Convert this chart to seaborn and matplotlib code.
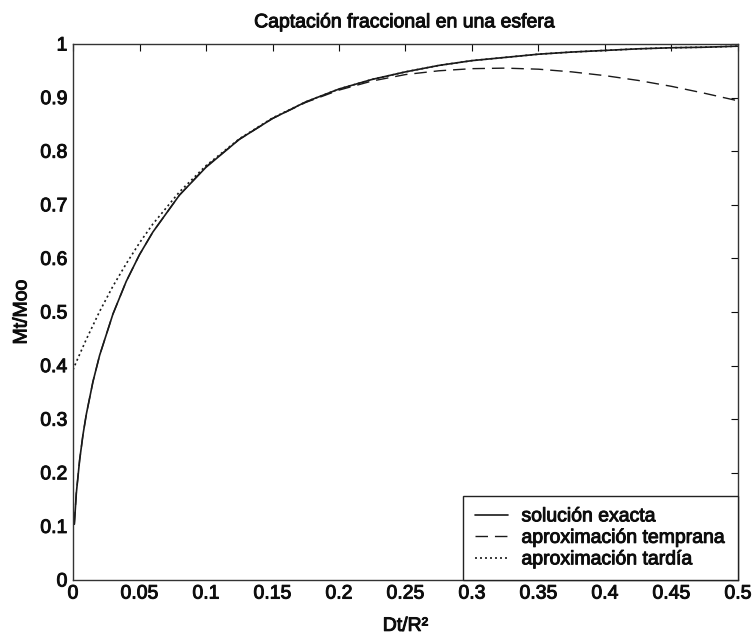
import matplotlib
matplotlib.use("Agg")
import matplotlib.pyplot as plt
import matplotlib.patheffects as pe
import seaborn as sns
import pandas as pd

# Data
x_exact = [0.001, 0.0025, 0.005, 0.0075, 0.01, 0.015, 0.02, 0.03, 0.04, 0.05, 0.06, 0.08,
           0.1, 0.125, 0.15, 0.175, 0.2, 0.225, 0.25, 0.275, 0.3, 0.325, 0.35, 0.375,
           0.4, 0.425, 0.45, 0.475, 0.5]
y_exact = [0.104, 0.162, 0.224, 0.271, 0.309, 0.370, 0.419, 0.496, 0.557, 0.607, 0.649, 0.718,
           0.770, 0.822, 0.861, 0.892, 0.916, 0.934, 0.948, 0.960, 0.969, 0.975, 0.981, 0.985,
           0.988, 0.991, 0.993, 0.994, 0.996]

x_early = x_exact
y_early = [0.104, 0.162, 0.224, 0.271, 0.309, 0.370, 0.419, 0.496, 0.557, 0.607, 0.649, 0.718,
           0.771, 0.822, 0.861, 0.891, 0.914, 0.931, 0.943, 0.950, 0.954, 0.955, 0.953, 0.948,
           0.941, 0.932, 0.921, 0.908, 0.894]

x_late = [0.0, 0.0025, 0.005, 0.01, 0.02, 0.03, 0.04, 0.05, 0.06, 0.08, 0.1, 0.125, 0.15,
          0.175, 0.2, 0.225, 0.25, 0.275, 0.3, 0.325, 0.35, 0.375, 0.4, 0.425, 0.45, 0.475, 0.5]
y_late = [0.392, 0.407, 0.421, 0.449, 0.501, 0.548, 0.590, 0.629, 0.664, 0.724, 0.773, 0.823,
          0.862, 0.892, 0.916, 0.934, 0.948, 0.960, 0.969, 0.975, 0.981, 0.985, 0.988, 0.991,
          0.993, 0.994, 0.996]

labels = ["solución exacta", "aproximación temprana", "aproximación tardía"]
x_ticks = [0, 0.05, 0.1, 0.15, 0.2, 0.25, 0.3, 0.35, 0.4, 0.45, 0.5]
x_ticklabels = ["0", "0.05", "0.1", "0.15", "0.2", "0.25", "0.3", "0.35", "0.4", "0.45", "0.5"]
y_ticks = [0, 0.1, 0.2, 0.3, 0.4, 0.5, 0.6, 0.7, 0.8, 0.9, 1.0]
y_ticklabels = ["0", "0.1", "0.2", "0.3", "0.4", "0.5", "0.6", "0.7", "0.8", "0.9", "1"]

sns.set_theme(style="white")
plt.rcParams['font.family'] = ['Liberation Sans', 'DejaVu Sans']

FS = 14
TXT = "#0d0d0d"
thick = [pe.withStroke(linewidth=0.7, foreground=TXT)]

fig = plt.figure(figsize=(7.55, 6.41), dpi=100)
ax = fig.add_axes([73/755, 1-580/641, (738-73)/755, (580-44)/641])

df_exact = pd.DataFrame({"x": x_exact, "y": y_exact})
df_early = pd.DataFrame({"x": x_early, "y": y_early})
df_late = pd.DataFrame({"x": x_late, "y": y_late})

sns.lineplot(data=df_exact, x="x", y="y", ax=ax, color="#1a1a1a", lw=1.2, label=labels[0])
sns.lineplot(data=df_early, x="x", y="y", ax=ax, color="#1a1a1a", lw=1.0, label=labels[1],
             dashes=False, linestyle=(0, (9, 5)))
sns.lineplot(data=df_late, x="x", y="y", ax=ax, color="#1a1a1a", lw=1.2, label=labels[2],
             linestyle=(0, (1.2, 1.8)))

ax.set_xlim(0, 0.5)
ax.set_ylim(0, 1)
ax.set_xticks(x_ticks)
ax.set_xticklabels(x_ticklabels)
ax.set_yticks(y_ticks)
ax.set_yticklabels(y_ticklabels)
ax.tick_params(direction="in", top=True, right=True, length=5, width=0.8,
               labelsize=FS, colors=TXT, pad=4)
for s in ax.spines.values():
    s.set_color("#333333")
    s.set_linewidth(1.0)

ax.set_title("Captación fraccional en una esfera", fontsize=FS, pad=12, color=TXT)
ax.set_xlabel("Dt/R²", fontsize=FS, labelpad=11, color=TXT)
ax.set_ylabel("Mt/Moo", fontsize=FS, labelpad=7, color=TXT)

leg = ax.legend(loc="lower right", borderaxespad=0.0, fontsize=FS, frameon=True,
                fancybox=False, edgecolor="#222222", handlelength=1.7, handletextpad=0.7,
                labelspacing=0.2, borderpad=0.6)
leg.get_frame().set_linewidth(1.0)
leg.get_frame().set_alpha(1.0)
for t in leg.get_texts():
    t.set_color(TXT)
    t.set_path_effects(thick)

for t in ax.get_xticklabels() + ax.get_yticklabels():
    t.set_path_effects(thick)
ax.title.set_path_effects(thick)
ax.xaxis.label.set_path_effects(thick)
ax.yaxis.label.set_path_effects(thick)

fig.savefig("out.png", dpi=100)
